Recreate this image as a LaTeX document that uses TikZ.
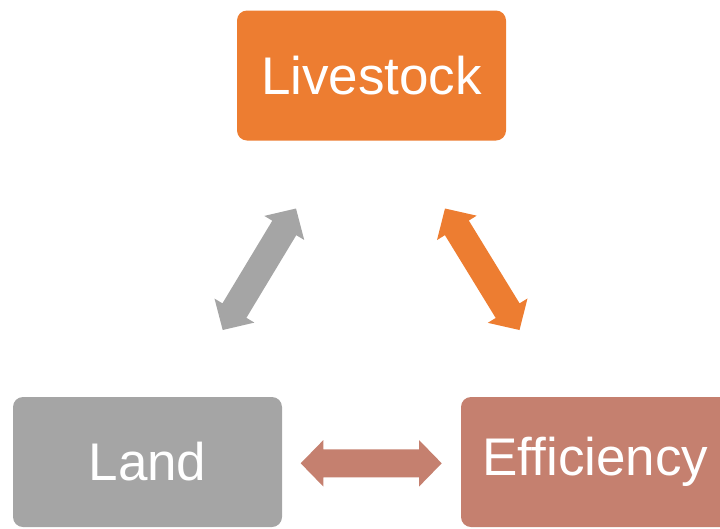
\documentclass[tikz,border=0pt]{standalone}
\usepackage{fontspec}
\setmainfont{Liberation Sans}
\usetikzlibrary{calc}

\definecolor{stockorange}{HTML}{ED7D31}
\definecolor{landgray}{HTML}{A5A5A5}
\definecolor{effsalmon}{HTML}{C5806F}

% two-headed block arrow between two points: #1 colour, #2 and #3 tips
\newcommand{\dblarrow}[3]{%
  \coordinate (ha) at ($(#2)!22.7pt!(#3)$);
  \coordinate (hb) at ($(#3)!22.7pt!(#2)$);
  \fill[#1] (#2) -- ($(ha)!23.3pt!90:(#2)$) -- ($(ha)!14pt!90:(#2)$)
    -- ($(hb)!14pt!-90:(#3)$) -- ($(hb)!23.3pt!-90:(#3)$) -- (#3)
    -- ($(hb)!23.3pt!90:(#3)$) -- ($(hb)!14pt!90:(#3)$)
    -- ($(ha)!14pt!-90:(#2)$) -- ($(ha)!23.3pt!-90:(#2)$) -- cycle;
}

\begin{document}
\begin{tikzpicture}[
    x=1pt, y=-1pt,
    box/.style={rounded corners=10pt, minimum width=269pt, minimum height=130pt,
      inner sep=0pt, text=white, font=\fontsize{53}{60}\selectfont}
  ]
  \useasboundingbox (0,0) rectangle (720,528);

  \node[box, fill=stockorange] (stock) at (371.5,75.5) {Livestock};
  \node[box, fill=landgray] (land) at (147.5,462) {Land};
  \node[box, fill=effsalmon] (eff) at (595.5,462) {Efficiency};

  % arrow tips
  \coordinate (gl) at (222.7,330);
  \coordinate (gu) at (296,208.5);
  \coordinate (ou) at (445,208.5);
  \coordinate (ol) at (519.5,330);
  \coordinate (sl) at (300.7,463.3);
  \coordinate (sr) at (441.7,463.3);

  \dblarrow{landgray}{gl}{gu}
  \dblarrow{stockorange}{ou}{ol}
  \dblarrow{effsalmon}{sl}{sr}
\end{tikzpicture}
\end{document}
